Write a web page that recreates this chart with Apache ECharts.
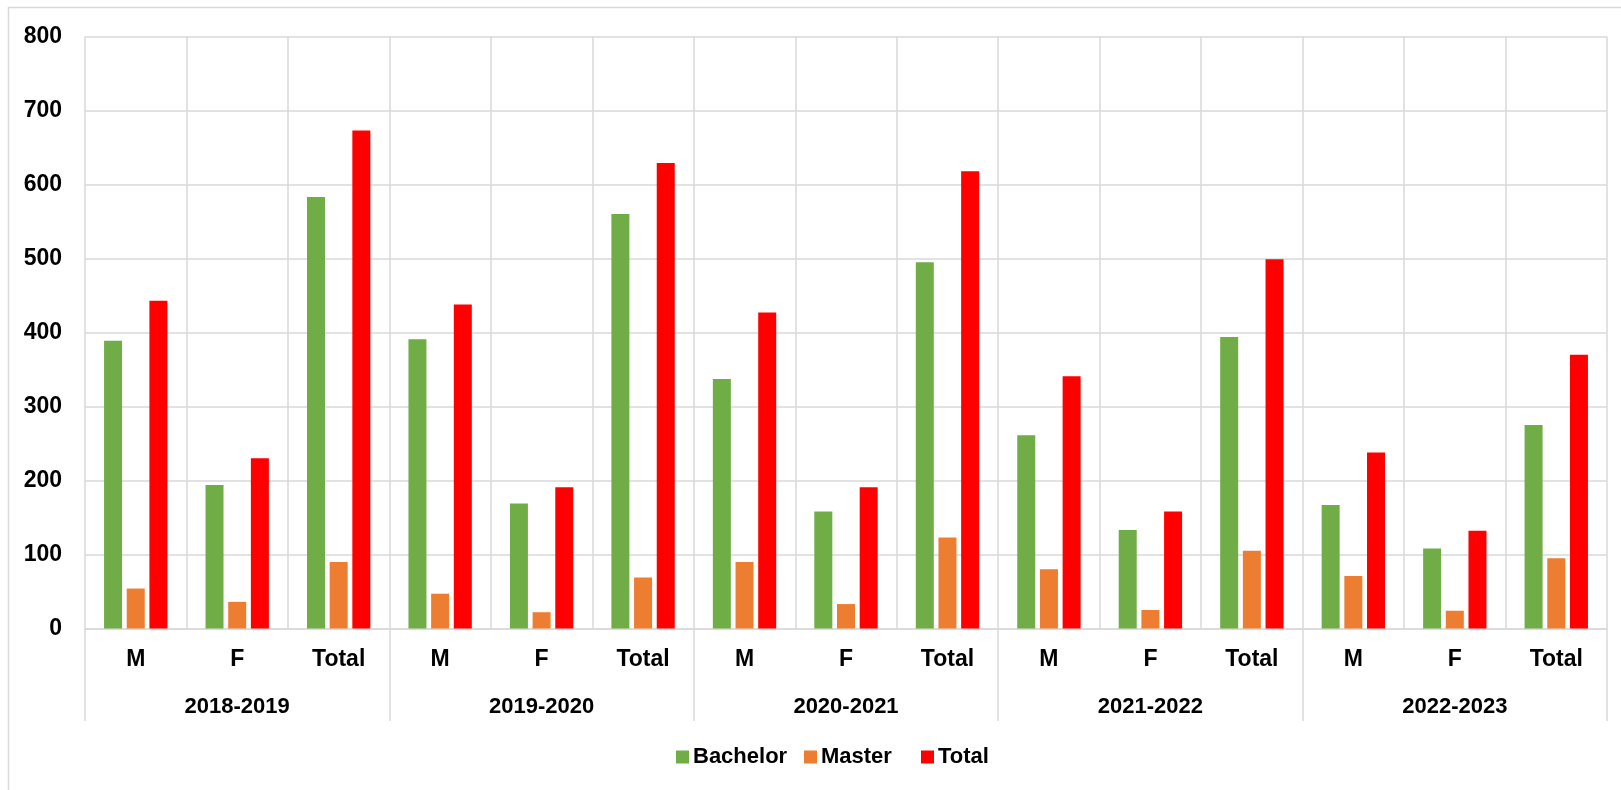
<!DOCTYPE html>
<html>
<head>
<meta charset="utf-8">
<title>Enrolment by Year, Gender and Degree</title>
<script src="https://cdn.jsdelivr.net/npm/echarts@6/dist/echarts.min.js"></script>
<style>
  html, body { margin: 0; padding: 0; background: #ffffff; }
  #chart { width: 1621px; height: 790px; }
</style>
</head>
<body>
<div id="chart"></div>
<script>
// Academic years and the gender breakdown inside each year
const years = ['2018-2019', '2019-2020', '2020-2021', '2021-2022', '2022-2023'];
const groups = ['M', 'F', 'Total'];

// Values per (year, group), in the order of the flat category list
const bachelor = [389, 194, 583, 391, 169, 560, 337, 158, 495, 261, 133, 394, 167, 108, 275];
const master   = [54, 36, 90, 47, 22, 69, 90, 33, 123, 80, 25, 105, 71, 24, 95];
const total    = [443, 230, 673, 438, 191, 629, 427, 191, 618, 341, 158, 499, 238, 132, 370];

const seriesNames = ['Bachelor', 'Master', 'Total'];
const seriesColors = ['#70AD47', '#ED7D31', '#FF0000'];

const yTicks = { min: 0, max: 800, step: 100 };

const FONT = "'Liberation Sans Narrow', 'Liberation Sans', sans-serif";
const GRID_GRAY = '#d9d9d9';
const TEXT = '#000000';

// One flat category per (year, group) pair
const categories = [];
years.forEach(function (y) { groups.forEach(function (g) { categories.push(g); }); });

const chart = echarts.init(document.getElementById('chart'), null, { renderer: 'canvas' });

const barCommon = { type: 'bar', barWidth: 18, barGap: '26%', xAxisIndex: 0, yAxisIndex: 0 };

// Each legend entry placed on its own so the spacing follows the label widths
const legendLefts = [671, 799, 916];
const legends = seriesNames.map(function (name, i) {
  return {
    left: legendLefts[i],
    top: 741,
    itemWidth: 13,
    itemHeight: 13,
    itemGap: 0,
    icon: 'rect',
    textStyle: { fontFamily: FONT, fontSize: 22, fontWeight: 'bold', color: TEXT, padding: [0, 0, 0, -1] },
    data: [name]
  };
});

chart.setOption({
  animation: false,
  backgroundColor: '#ffffff',
  textStyle: { fontFamily: FONT },
  graphic: [{
    type: 'rect',
    shape: { x: 8.5, y: 7.5, width: 1700, height: 900 },
    style: { fill: 'none', stroke: GRID_GRAY, lineWidth: 1.5 },
    silent: true,
    z: -10
  }],
  grid: { left: 85, right: 14, top: 36.5, bottom: 161.5, containLabel: false },
  legend: legends,
  xAxis: [
    {
      type: 'category',
      data: categories,
      position: 'bottom',
      axisLine: { show: true, lineStyle: { color: GRID_GRAY, width: 1.5 } },
      axisTick: { show: false },
      splitLine: { show: true, lineStyle: { color: GRID_GRAY, width: 1.5 } },
      axisLabel: {
        interval: 0,
        margin: 31,
        verticalAlign: 'middle',
        fontFamily: FONT, fontSize: 23, fontWeight: 'bold', color: TEXT
      }
    },
    {
      type: 'category',
      data: years,
      position: 'bottom',
      gridIndex: 0,
      axisLine: { show: false },
      axisTick: { show: true, length: 92.5, inside: false, lineStyle: { color: GRID_GRAY, width: 1.5 } },
      splitLine: { show: false },
      axisLabel: {
        interval: 0,
        margin: 78,
        verticalAlign: 'middle',
        fontFamily: FONT, fontSize: 22, fontWeight: 'bold', color: TEXT
      }
    }
  ],
  yAxis: {
    type: 'value',
    min: yTicks.min,
    max: yTicks.max,
    interval: yTicks.step,
    axisLine: { show: false },
    axisTick: { show: false },
    splitLine: { show: true, lineStyle: { color: GRID_GRAY, width: 1.5 } },
    axisLabel: {
      margin: 23,
      fontFamily: FONT, fontSize: 23, fontWeight: 'bold', color: TEXT
    }
  },
  series: [
    Object.assign({ name: seriesNames[0], data: bachelor, itemStyle: { color: seriesColors[0] } }, barCommon),
    Object.assign({ name: seriesNames[1], data: master, itemStyle: { color: seriesColors[1] } }, barCommon),
    Object.assign({ name: seriesNames[2], data: total, itemStyle: { color: seriesColors[2] } }, barCommon)
  ]
});
</script>
</body>
</html>
